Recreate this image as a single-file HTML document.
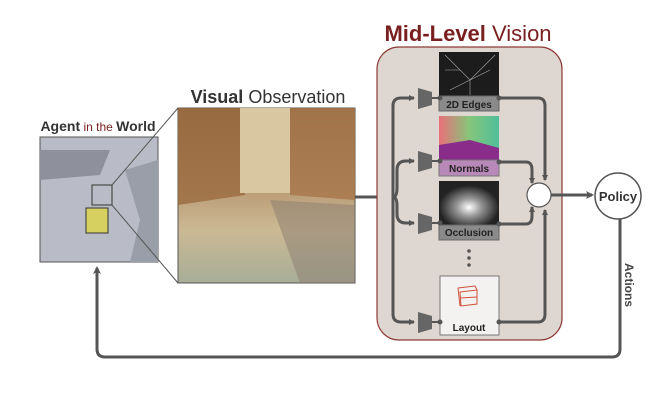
<!DOCTYPE html>
<html><head><meta charset="utf-8"><style>
body{margin:0;background:#fff;}
svg{display:block;font-family:"Liberation Sans",sans-serif;}
</style></head><body>
<svg width="668" height="402" viewBox="0 0 668 402" xmlns="http://www.w3.org/2000/svg">
<defs>
<marker id="ah" markerWidth="8" markerHeight="8" refX="6" refY="4" orient="auto" markerUnits="userSpaceOnUse"><path d="M0,0 L8,4 L0,8 L2,4Z" fill="#555"/></marker>
<marker id="as" markerWidth="6" markerHeight="6" refX="5" refY="3" orient="auto" markerUnits="userSpaceOnUse"><path d="M0,0 L6,3 L0,6Z" fill="#555"/></marker>
<linearGradient id="floor" x1="0" y1="0" x2="0" y2="1"><stop offset="0" stop-color="#8a6a48"/><stop offset="0.45" stop-color="#b89a74"/><stop offset="0.7" stop-color="#cbb994"/><stop offset="1" stop-color="#a7ad98"/></linearGradient>
<linearGradient id="nrm" x1="0" y1="0" x2="1" y2="0"><stop offset="0" stop-color="#e9707a"/><stop offset="0.5" stop-color="#86c57a"/><stop offset="1" stop-color="#4fbf9a"/></linearGradient>
<radialGradient id="occ" cx="0.5" cy="0.6" r="0.5"><stop offset="0" stop-color="#fff"/><stop offset="0.4" stop-color="#999"/><stop offset="1" stop-color="#222"/></radialGradient>
</defs>

<text x="98" y="131" font-size="14" text-anchor="middle" fill="#333"><tspan font-weight="bold">Agent</tspan><tspan fill="#7a2020" font-size="12"> in the </tspan><tspan font-weight="bold">World</tspan></text>
<rect x="40" y="137" width="118" height="125" fill="#b9bcc6" stroke="#555" stroke-width="1"/>
<path d="M40,150 L110,150 L100,175 L40,180Z" fill="#8e919b"/>
<path d="M125,170 L158,160 L158,262 L130,262 L140,220Z" fill="#9a9ea8"/>
<rect x="92" y="185" width="20" height="20" fill="none" stroke="#333" stroke-width="1"/>
<rect x="86" y="208" width="22" height="25" fill="#d6d060" stroke="#333" stroke-width="1"/>
<line x1="112" y1="185" x2="178" y2="108" stroke="#555" stroke-width="1"/>
<line x1="112" y1="205" x2="178" y2="283" stroke="#555" stroke-width="1"/>

<text x="268" y="103" font-size="18" text-anchor="middle" fill="#333"><tspan font-weight="bold">Visual</tspan> Observation</text>
<rect x="178" y="108" width="177" height="175" fill="url(#floor)" stroke="#555" stroke-width="1"/>
<path d="M178,108 L240,108 L245,195 L178,205Z" fill="#9b6a3e" opacity="0.8"/>
<path d="M290,108 L355,108 L355,200 L290,195Z" fill="#a8754a" opacity="0.8"/>
<rect x="240" y="108" width="50" height="85" fill="#d8c7a0"/>
<path d="M270,200 L355,205 L355,283 L300,283Z" fill="#8a7c70" opacity="0.5"/>
<line x1="355" y1="197" x2="393" y2="197" stroke="#555" stroke-width="3"/>

<text x="468" y="41" font-size="22" text-anchor="middle" fill="#7a1f1f"><tspan font-weight="bold">Mid-Level</tspan> Vision</text>
<rect x="377" y="47" width="185" height="293" rx="22" fill="#ddd6d1" stroke="#8e3a34" stroke-width="1.2"/>

<g fill="none" stroke="#555" stroke-width="3">
<path d="M393,197 L393,106 Q393,98 401,98 L414,98" marker-end="url(#as)"/>
<path d="M393,197 L393,314 Q393,322 401,322 L414,322" marker-end="url(#as)"/>
<path d="M393,197 Q397,197 397,188 L397,170 Q397,161 406,161 L414,161" marker-end="url(#as)"/>
<path d="M393,197 Q397,197 397,206 L397,214 Q397,223 406,223 L414,223" marker-end="url(#as)"/>
<path d="M499,98 L538,98 Q545,98 545,106 L545,180" marker-end="url(#as)"/>
<path d="M499,162 L526,162 Q532,162 532,170 L532,183" marker-end="url(#as)"/>
<path d="M499,224 L526,224 Q532,224 532,216 L532,207" marker-end="url(#as)"/>
<path d="M499,322 L538,322 Q545,322 545,314 L545,210" marker-end="url(#as)"/>
</g>
<g fill="#666">
<path d="M418,88 L432,92 L432,105 L418,109Z"/>
<path d="M418,151 L432,155 L432,168 L418,172Z"/>
<path d="M418,213 L432,217 L432,230 L418,234Z"/>
<path d="M418,312 L432,316 L432,329 L418,333Z"/>
</g>
<g stroke="#555" stroke-width="2">
<line x1="432" y1="98" x2="440" y2="98"/><line x1="432" y1="161" x2="440" y2="161"/>
<line x1="432" y1="223" x2="440" y2="223"/><line x1="432" y1="322" x2="440" y2="322"/>
</g>

<rect x="439" y="52" width="60" height="45" fill="#1c1c1c"/>
<g stroke="#aaa" stroke-width="0.6" fill="none"><path d="M445,55 L470,80 L495,55 M470,80 L470,95 M450,90 L490,70 M445,70 L460,70"/></g>
<rect x="439" y="96" width="60" height="15" fill="#8a8a8a" stroke="#666"/>
<text x="469" y="108" font-size="10" text-anchor="middle" font-weight="bold" fill="#222">2D Edges</text>

<rect x="439" y="116" width="60" height="45" fill="url(#nrm)"/>
<path d="M439,145 L470,140 L499,148 L499,161 L439,161Z" fill="#8a2d8a"/>
<rect x="439" y="160" width="60" height="16" fill="#b888b8" stroke="#777"/>
<text x="469" y="172" font-size="10" text-anchor="middle" font-weight="bold" fill="#222">Normals</text>

<rect x="439" y="181" width="60" height="44" fill="url(#occ)"/>
<rect x="439" y="225" width="60" height="15" fill="#8a8a8a" stroke="#666"/>
<text x="469" y="236" font-size="10" text-anchor="middle" font-weight="bold" fill="#222">Occlusion</text>

<g fill="#555"><circle cx="469" cy="251" r="1.8"/><circle cx="469" cy="258" r="1.8"/><circle cx="469" cy="265" r="1.8"/></g>

<rect x="440" y="276" width="59" height="59" fill="#f4f2f0" stroke="#777"/>
<g fill="none" stroke="#d0503a" stroke-width="1"><path d="M460,292 L477,290 L477,304 L461,306Z M460,298 L477,297 M458,288 L475,286 L477,290 M458,288 L460,306"/></g>
<text x="469" y="331" font-size="10" text-anchor="middle" font-weight="bold" fill="#222">Layout</text>

<g fill="#555">
<circle cx="440" cy="98" r="2.5"/><circle cx="499" cy="98" r="2.5"/>
<circle cx="440" cy="161" r="2.5"/><circle cx="499" cy="162" r="2.5"/>
<circle cx="440" cy="223" r="2.5"/><circle cx="499" cy="224" r="2.5"/>
<circle cx="440" cy="322" r="2.5"/><circle cx="499" cy="322" r="2.5"/>
</g>

<circle cx="539" cy="195" r="12" fill="#fff" stroke="#555" stroke-width="1.2"/>
<line x1="551" y1="195" x2="592" y2="195" stroke="#555" stroke-width="3" marker-end="url(#ah)"/>

<circle cx="618" cy="196" r="23" fill="#fff" stroke="#555" stroke-width="1.5"/>
<text x="618" y="201" font-size="13" text-anchor="middle" font-weight="bold" fill="#333">Policy</text>

<path d="M620,219 L620,349 Q620,357 612,357 L105,357 Q97,357 97,349 L97,268" fill="none" stroke="#555" stroke-width="3" marker-end="url(#ah)"/>
<text transform="translate(625,285) rotate(90)" font-size="12" font-weight="bold" fill="#444" text-anchor="middle">Actions</text>
</svg>
</body></html>
